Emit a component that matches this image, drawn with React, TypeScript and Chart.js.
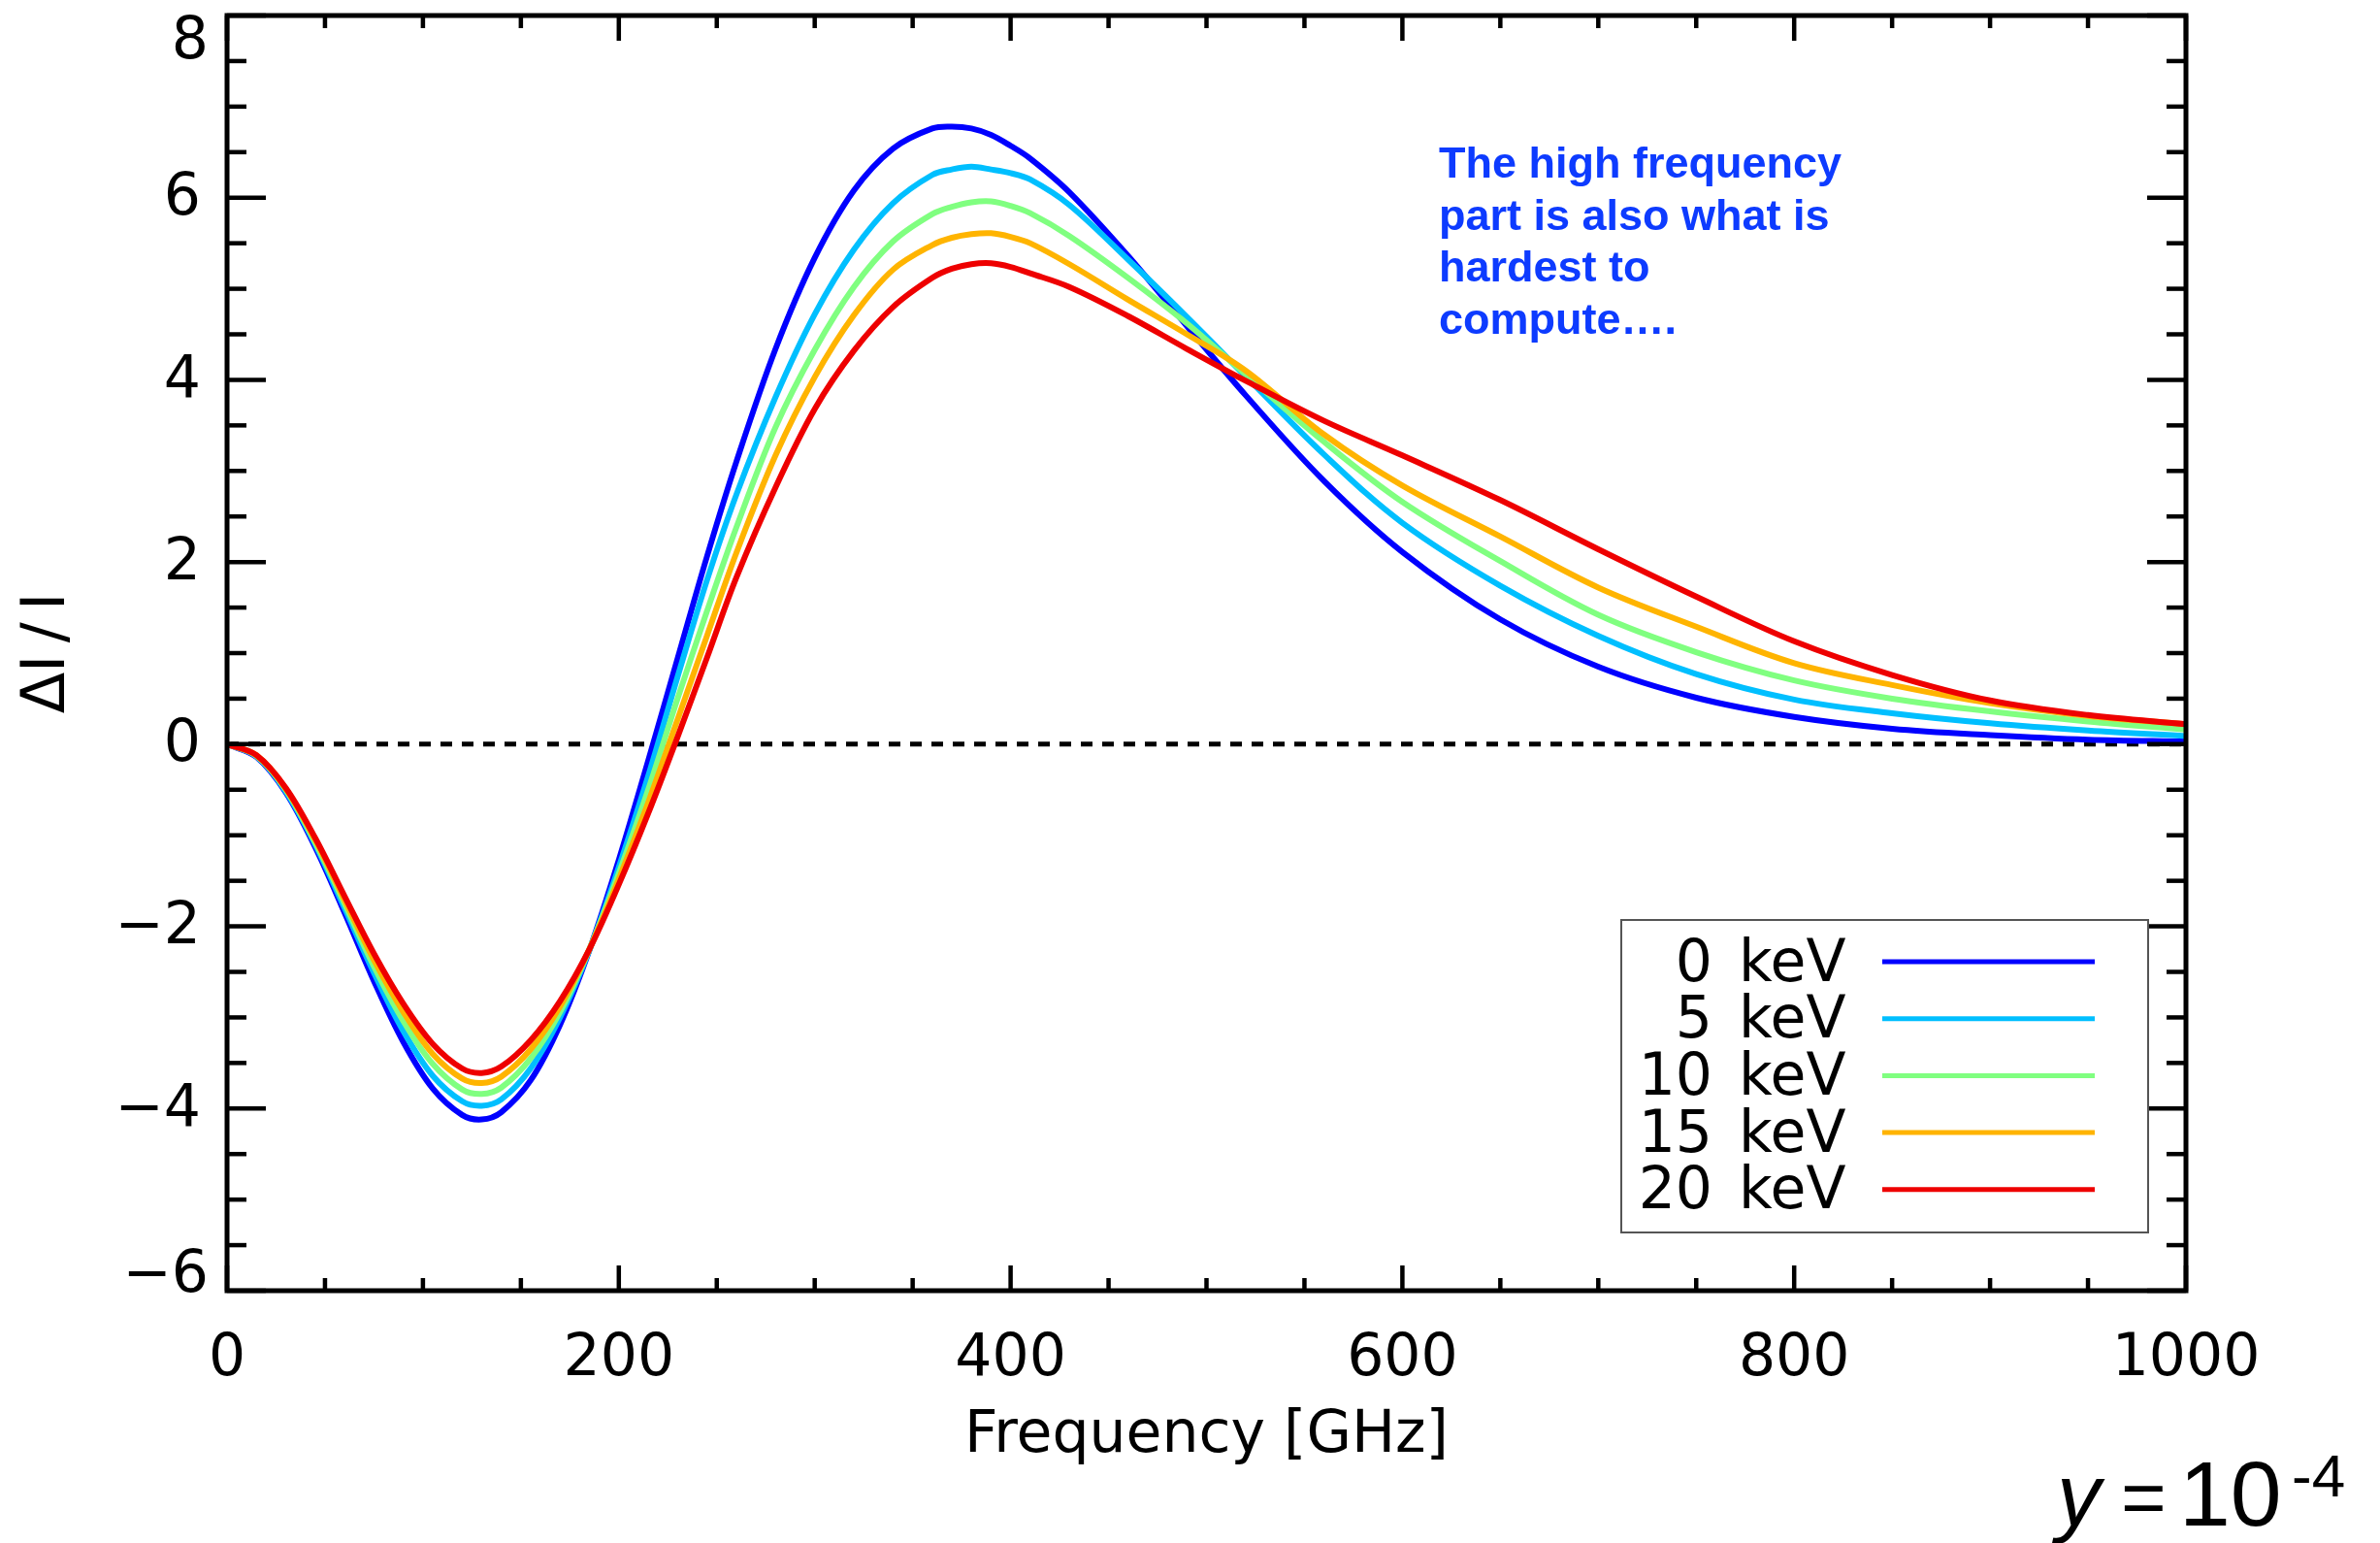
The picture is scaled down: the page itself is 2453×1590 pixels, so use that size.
import React, { useEffect, useRef } from 'react';
import { Chart, registerables } from 'chart.js';

Chart.register(...registerables);

// ---------------- data ----------------
const FREQ_GHZ = [0, 15, 30, 45, 60, 75, 90, 105, 120, 130, 140, 155, 170, 185, 200, 215, 230, 245, 260, 280, 300, 320, 340, 360, 370, 380, 390, 400, 410, 430, 460, 490, 520, 560, 600, 650, 700, 750, 800, 850, 900, 950, 1000];

const DI_0KEV = [0, -0.14, -0.53, -1.13, -1.85, -2.6, -3.27, -3.78, -4.07, -4.12, -4.04, -3.69, -3.08, -2.26, -1.27, -0.18, 0.94, 2.06, 3.1, 4.34, 5.34, 6.08, 6.54, 6.76, 6.78, 6.76, 6.69, 6.57, 6.43, 6.06, 5.36, 4.59, 3.83, 2.89, 2.11, 1.37, 0.85, 0.51, 0.3, 0.17, 0.1, 0.05, 0.03];
const DI_5KEV = [0, -0.13, -0.52, -1.1, -1.8, -2.51, -3.15, -3.64, -3.92, -3.97, -3.9, -3.56, -3.0, -2.26, -1.35, -0.35, 0.74, 1.8, 2.74, 3.81, 4.72, 5.43, 5.94, 6.25, 6.31, 6.34, 6.31, 6.27, 6.2, 5.92, 5.32, 4.69, 4.04, 3.18, 2.43, 1.74, 1.19, 0.77, 0.49, 0.34, 0.23, 0.15, 0.09];
const DI_10KEV = [0, -0.13, -0.5, -1.08, -1.75, -2.44, -3.04, -3.51, -3.79, -3.84, -3.77, -3.45, -2.94, -2.25, -1.42, -0.5, 0.5, 1.46, 2.38, 3.48, 4.33, 5.02, 5.52, 5.82, 5.9, 5.95, 5.96, 5.91, 5.83, 5.58, 5.12, 4.62, 4.06, 3.32, 2.66, 2.01, 1.42, 1.01, 0.7, 0.5, 0.36, 0.25, 0.16];
const DI_15KEV = [0, -0.12, -0.49, -1.05, -1.71, -2.37, -2.94, -3.4, -3.67, -3.72, -3.65, -3.35, -2.88, -2.25, -1.48, -0.64, 0.27, 1.19, 2.1, 3.17, 4.03, 4.71, 5.21, 5.48, 5.56, 5.6, 5.61, 5.57, 5.5, 5.27, 4.88, 4.5, 4.1, 3.4, 2.84, 2.28, 1.72, 1.29, 0.89, 0.65, 0.45, 0.31, 0.22];
const DI_20KEV = [0, -0.12, -0.48, -1.03, -1.67, -2.3, -2.85, -3.29, -3.56, -3.61, -3.54, -3.25, -2.82, -2.25, -1.54, -0.76, 0.08, 0.95, 1.83, 2.82, 3.68, 4.32, 4.8, 5.12, 5.22, 5.27, 5.28, 5.24, 5.17, 5.02, 4.7, 4.34, 3.99, 3.55, 3.17, 2.68, 2.14, 1.62, 1.13, 0.76, 0.48, 0.32, 0.22];

const ENERGIES_KEV = ['0', '5', '10', '15', '20'];
const SERIES = [DI_0KEV, DI_5KEV, DI_10KEV, DI_15KEV, DI_20KEV];
const COLORS = ['#0000ff', '#00bfff', '#80ff80', '#ffb400', '#ee0000'];

const ZERO_LINE_X = [0, 1000];
const ZERO_LINE_Y = [0, 0];

const X_MIN = 0;
const X_MAX = 1000;
const X_STEP = 200;
const X_MINOR = 50;
const Y_MIN = -6;
const Y_MAX = 8;
const Y_STEP = 2;
const Y_MINOR = 0.5;

const X_TITLE = 'Frequency [GHz]';
const Y_TITLE = 'ΔI\u2009/\u2009I';
const NOTE_LINES = ['The high frequency', 'part is also what is', 'hardest to', 'compute….'];
const PARAM_SYMBOL = 'y';
const PARAM_BASE = '10';
const PARAM_EXP = '-4';

const FONT = "'DejaVu Sans', sans-serif";
const ARIAL = "'Liberation Sans', Arial, sans-serif";

const fmtY = (v: number) => (v < 0 ? '\u2212' + String(-v) : String(v));

const framePlugin = {
  id: 'frameTicks',
  afterDatasetsDraw(chart: any) {
    const { ctx, chartArea: a, scales } = chart;
    const xs = scales.x;
    const ys = scales.y;
    ctx.save();
    ctx.strokeStyle = '#000';
    ctx.lineCap = 'butt';
    ctx.lineWidth = 4.5;
    const seg = (x1: number, y1: number, x2: number, y2: number) => {
      ctx.beginPath();
      ctx.moveTo(x1, y1);
      ctx.lineTo(x2, y2);
      ctx.stroke();
    };
    for (let v = X_MIN; v <= X_MAX + 1e-9; v += X_MINOR) {
      const px = xs.getPixelForValue(v);
      const major = Math.abs(v % X_STEP) < 1e-9;
      const len = major ? 26 : 13;
      seg(px, a.bottom, px, a.bottom - len);
      seg(px, a.top, px, a.top + len);
    }
    for (let v = Y_MIN; v <= Y_MAX + 1e-9; v += Y_MINOR) {
      const py = ys.getPixelForValue(v);
      const major = Math.abs(v % Y_STEP) < 1e-9;
      const len = major ? 40 : 20;
      seg(a.left, py, a.left + len, py);
      seg(a.right, py, a.right - len, py);
    }
    ctx.lineWidth = 5;
    ctx.strokeRect(a.left, a.top, a.right - a.left, a.bottom - a.top);

    // edge labels kept inside the axis range
    ctx.fillStyle = '#000';
    ctx.font = `60px ${FONT}`;
    ctx.textAlign = 'right';
    ctx.textBaseline = 'alphabetic';
    ctx.fillText(fmtY(Y_MAX), a.left - 19, ys.getPixelForValue(Y_MAX) + 44);
    ctx.fillText(fmtY(Y_MIN), a.left - 19, ys.getPixelForValue(Y_MIN) + 1);
    ctx.restore();
  },
  afterDraw(chart: any) {
    const { ctx } = chart;
    ctx.save();
    // legend
    const bx = 1671, by = 948, bw = 543, bh = 322;
    ctx.fillStyle = '#fff';
    ctx.fillRect(bx, by, bw, bh);
    ctx.strokeStyle = '#555';
    ctx.lineWidth = 2;
    ctx.strokeRect(bx, by, bw, bh);
    const sets = chart.data.datasets.filter((d: any) => d.label && d.label.indexOf('keV') >= 0);
    sets.forEach((d: any, i: number) => {
      const cy = 991 + i * 58.7;
      const parts = d.label.split(' ');
      ctx.fillStyle = '#000';
      ctx.font = `60px ${FONT}`;
      ctx.textBaseline = 'middle';
      ctx.textAlign = 'right';
      ctx.fillText(parts[0], 1765, cy + 4);
      ctx.textAlign = 'left';
      ctx.fillText(parts[1], 1792, cy + 4);
      ctx.strokeStyle = d.borderColor;
      ctx.lineWidth = 5;
      ctx.beginPath();
      ctx.moveTo(1940, cy);
      ctx.lineTo(2159, cy);
      ctx.stroke();
    });
    // annotation
    ctx.fillStyle = '#0d3bff';
    ctx.font = `bold 45px ${ARIAL}`;
    ctx.textAlign = 'left';
    ctx.textBaseline = 'alphabetic';
    NOTE_LINES.forEach((t, i) => ctx.fillText(t, 1483, 183 + i * 53.7));
    // y = 10^-4
    ctx.fillStyle = '#000';
    ctx.font = `italic 90px ${ARIAL}`;
    ctx.fillText(PARAM_SYMBOL, 2120, 1572);
    ctx.font = `80px ${ARIAL}`;
    ctx.fillText('=', 2186, 1570);
    ctx.font = `95px ${ARIAL}`;
    ctx.fillText(PARAM_BASE, 2246, 1572);
    ctx.font = `62px ${ARIAL}`;
    ctx.fillText(PARAM_EXP, 2362, 1542);
    ctx.restore();
  },
};

export default function App() {
  const canvasRef = useRef<HTMLCanvasElement | null>(null);

  useEffect(() => {
    const canvas = canvasRef.current;
    if (!canvas) return;
    const datasets: any[] = SERIES.map((vals, i) => ({
      label: `${ENERGIES_KEV[i]} keV`,
      data: FREQ_GHZ.map((f, j) => ({ x: f, y: vals[j] })),
      borderColor: COLORS[i],
      backgroundColor: COLORS[i],
      borderWidth: 6,
      pointRadius: 0,
      tension: 0.35,
      fill: false,
      order: SERIES.length - 1 - i,
    }));
    datasets.push({
      label: 'zero',
      data: ZERO_LINE_X.map((x, j) => ({ x, y: ZERO_LINE_Y[j] })),
      borderColor: '#000',
      borderWidth: 5,
      borderDash: [12, 10],
      pointRadius: 0,
      fill: false,
      order: 10,
    });

    const chart = new Chart(canvas, {
      type: 'line',
      data: { datasets },
      options: {
        animation: false,
        responsive: false,
        devicePixelRatio: 1,
        layout: { padding: { top: 16, right: 200, left: 0, bottom: 0 } },
        plugins: { legend: { display: false }, tooltip: { enabled: false } },
        scales: {
          x: {
            type: 'linear',
            position: 'bottom',
            min: X_MIN,
            max: X_MAX,
            grid: { display: false },
            border: { display: false },
            ticks: {
              stepSize: X_STEP,
              autoSkip: false,
              maxRotation: 0,
              padding: 27,
              color: '#000',
              font: { family: FONT, size: 60 },
              callback: (v: any) => String(v),
            },
            title: {
              display: true,
              text: X_TITLE,
              color: '#000',
              font: { family: FONT, size: 60 },
              padding: { top: 0, bottom: 74 },
            },
            afterFit: (s: any) => {
              s.height = 260;
              s.paddingLeft = 0;
              s.paddingRight = 0;
            },
          },
          y: {
            type: 'linear',
            min: Y_MIN,
            max: Y_MAX,
            grid: { display: false },
            border: { display: false },
            ticks: {
              stepSize: Y_STEP,
              padding: 19,
              labelOffset: 2,
              color: '#000',
              font: { family: FONT, size: 60 },
              callback: (v: any) => (v === Y_MAX || v === Y_MIN ? '' : fmtY(v)),
            },
            title: {
              display: true,
              text: Y_TITLE,
              color: '#000',
              font: { family: FONT, size: 62 },
              padding: { top: 13, bottom: 0 },
            },
            afterFit: (s: any) => {
              s.width = 234;
              s.paddingTop = 0;
              s.paddingBottom = 0;
            },
          },
        },
      } as any,
      plugins: [framePlugin],
    });
    return () => chart.destroy();
  }, []);

  return (
    <div style={{ position: 'fixed', left: 0, top: 0, width: 2453, height: 1590, background: '#fff' }}>
      <canvas ref={canvasRef} width={2453} height={1590} style={{ display: 'block', width: 2453, height: 1590 }} />
    </div>
  );
}
